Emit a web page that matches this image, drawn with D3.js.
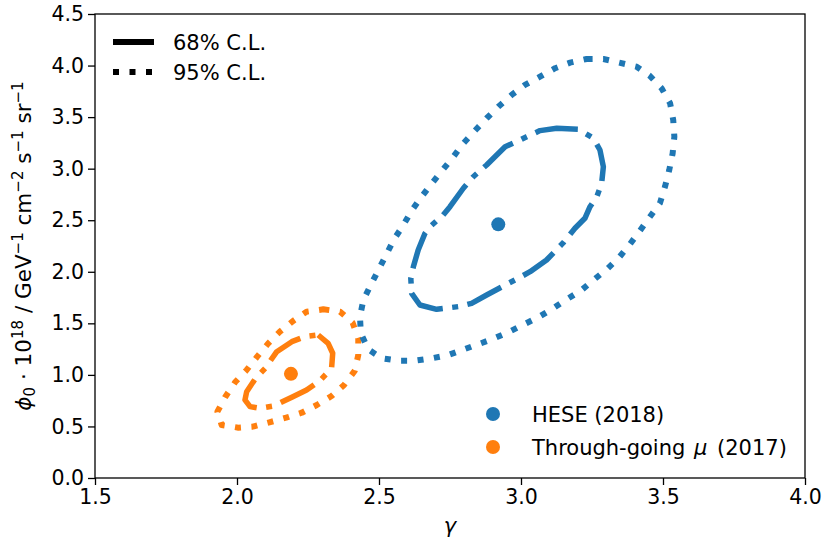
<!DOCTYPE html>
<html>
<head>
<meta charset="utf-8">
<script src="https://cdn.jsdelivr.net/npm/d3@7"></script>
<style>
  body { margin: 0; background: #fff; }
  svg text { font-family: "DejaVu Sans", sans-serif; fill: #000; }
</style>
</head>
<body>
<svg id="chart" width="827" height="546"></svg>
<script>
// contour points [gamma, phi0]
var heseBest = [2.92, 2.46];
var muBest = [2.19, 1.01];

var hese68 = [
  [3.067,3.369],[3.126,3.392],[3.202,3.382],[3.255,3.295],[3.278,3.181],[3.290,3.019],
  [3.284,2.858],[3.267,2.728],[3.243,2.631],[3.225,2.519],[3.190,2.422],[3.149,2.282],
  [3.090,2.114],[3.032,2.001],[2.990,1.937],[2.938,1.862],[2.879,1.775],[2.826,1.694],
  [2.779,1.662],[2.703,1.636],[2.644,1.678],[2.615,1.791],[2.612,1.937],[2.621,2.049],
  [2.638,2.211],[2.662,2.373],[2.680,2.437],[2.726,2.551],[2.750,2.631],[2.797,2.810],
  [2.832,2.922],[2.879,3.036],[2.944,3.213],[2.985,3.262],[3.020,3.310]
];
var hese95 = [
  [3.231,4.064],[3.290,4.064],[3.407,3.989],[3.454,3.899],[3.495,3.780],[3.525,3.634],
  [3.536,3.472],[3.540,3.310],[3.534,3.149],[3.522,2.987],[3.507,2.825],[3.489,2.664],
  [3.454,2.534],[3.419,2.399],[3.384,2.270],[3.346,2.141],[3.302,2.024],[3.255,1.920],
  [3.214,1.824],[3.161,1.733],[3.108,1.636],[3.061,1.559],[3.006,1.484],[2.952,1.409],
  [2.897,1.345],[2.842,1.290],[2.744,1.193],[2.686,1.161],[2.627,1.138],[2.568,1.138],
  [2.510,1.161],[2.462,1.248],[2.436,1.403],[2.433,1.565],[2.445,1.726],[2.471,1.872],
  [2.498,2.017],[2.525,2.163],[2.553,2.315],[2.586,2.454],[2.615,2.593],[2.650,2.728],
  [2.686,2.858],[2.724,2.987],[2.762,3.116],[2.797,3.246],[2.838,3.369],[2.879,3.489],
  [2.920,3.601],[2.967,3.715],[3.014,3.812],[3.067,3.892],[3.120,3.974],[3.173,4.028]
];
var mu68 = [
  [2.286,1.387],[2.321,1.306],[2.337,1.210],[2.333,1.064],[2.292,0.944],[2.245,0.854],
  [2.193,0.783],[2.128,0.698],[2.081,0.676],[2.046,0.692],[2.028,0.757],[2.034,0.837],
  [2.063,0.957],[2.099,1.064],[2.140,1.225],[2.193,1.322],[2.239,1.371]
];
var mu95 = [
  [2.304,1.636],[2.363,1.613],[2.407,1.506],[2.427,1.355],[2.427,1.193],[2.415,1.041],
  [2.377,0.902],[2.333,0.795],[2.281,0.708],[2.228,0.633],[2.173,0.585],[2.114,0.540],
  [2.055,0.498],[2.005,0.488],[1.946,0.514],[1.931,0.643],[1.958,0.783],[1.993,0.928],
  [2.034,1.048],[2.071,1.177],[2.110,1.306],[2.151,1.419],[2.199,1.526],[2.245,1.613]
];

var xTicks = [1.5, 2.0, 2.5, 3.0, 3.5, 4.0];
var yTicks = [0, 0.5, 1, 1.5, 2, 2.5, 3, 3.5, 4, 4.5];

var blue = "#1f77b4", orange = "#ff7f0e";
var dash68 = "38,9.5,6,9.5";
var dot95 = "6,10.5";

var $svg = d3.select("#chart");
// plot box (note: "top" is a reserved window global, so use m-prefixed names)
var mLeft = 95, mRight = 805, mTop = 14, mBottom = 478;

var x = d3.scaleLinear().domain([1.5, 4.0]).range([mLeft, mRight]);
var y = d3.scaleLinear().domain([0, 4.5]).range([mBottom, mTop]);

var line = d3.line().x(d => x(d[0])).y(d => y(d[1])).curve(d3.curveLinearClosed);

var $plot = $svg.append("g");

// contours
function contour(pts, color, dash, w) {
  $plot.append("path")
    .attr("d", line(pts))
    .attr("fill", "none")
    .attr("stroke", color)
    .attr("stroke-width", w)
    .attr("stroke-dasharray", dash)
    .attr("stroke-linejoin", "round");
}
contour(mu95, orange, dot95, 6);
contour(mu68, orange, dash68, 5.5);
contour(hese95, blue, dot95, 6);
contour(hese68, blue, dash68, 5.5);

// best fit points
$plot.append("circle").attr("cx", x(heseBest[0])).attr("cy", y(heseBest[1])).attr("r", 7).attr("fill", blue);
$plot.append("circle").attr("cx", x(muBest[0])).attr("cy", y(muBest[1])).attr("r", 7).attr("fill", orange);

// axes
var xAxis = d3.axisBottom(x).tickValues(xTicks).tickFormat(d3.format(".1f")).tickSize(7).tickPadding(4);
var yAxis = d3.axisLeft(y).tickValues(yTicks).tickFormat(d3.format(".1f")).tickSize(7).tickPadding(4);

var $gx = $svg.append("g").attr("transform", `translate(0 ${mBottom})`).call(xAxis);
var $gy = $svg.append("g").attr("transform", `translate(${mLeft} 0)`).call(yAxis);
[$gx, $gy].forEach(g => {
  g.select(".domain").remove();
  g.selectAll("line").attr("stroke", "#000").attr("stroke-width", 1.3);
  g.selectAll("text").attr("font-size", 20.5).attr("font-family", "DejaVu Sans").attr("fill", "#000");
});

// frame
$svg.append("rect")
  .attr("x", mLeft).attr("y", mTop)
  .attr("width", mRight - mLeft).attr("height", mBottom - mTop)
  .attr("fill", "none").attr("stroke", "#000").attr("stroke-width", 1.3);

// axis labels
$svg.append("text")
  .attr("x", (mLeft + mRight) / 2).attr("y", 533)
  .attr("text-anchor", "middle").attr("font-size", 21)
  .attr("font-style", "italic").text("γ");

var $yl = $svg.append("text")
  .attr("transform", `translate(31 ${(mTop + mBottom) / 2}) rotate(-90)`)
  .attr("text-anchor", "middle").attr("font-size", 21.5);
$yl.append("tspan").attr("font-style", "italic").text("ϕ");
$yl.append("tspan").attr("font-size", 15).attr("dy", 4).text("0");
$yl.append("tspan").attr("dy", -4).text(" · 10");
$yl.append("tspan").attr("font-size", 15).attr("dy", -8).text("18");
$yl.append("tspan").attr("dy", 8).text(" / GeV");
$yl.append("tspan").attr("font-size", 15).attr("dy", -8).text("−1");
$yl.append("tspan").attr("dy", 8).text(" cm");
$yl.append("tspan").attr("font-size", 15).attr("dy", -8).text("−2");
$yl.append("tspan").attr("dy", 8).text(" s");
$yl.append("tspan").attr("font-size", 15).attr("dy", -8).text("−1");
$yl.append("tspan").attr("dy", 8).text(" sr");
$yl.append("tspan").attr("font-size", 15).attr("dy", -8).text("−1");

// legend: confidence levels
var clLegend = [["68% C.L.", null], ["95% C.L.", dot95]];
clLegend.forEach((d, i) => {
  var yy = 42 + i * 30;
  $svg.append("line")
    .attr("x1", 113).attr("x2", 154).attr("y1", yy).attr("y2", yy)
    .attr("stroke", "#000").attr("stroke-width", 6)
    .attr("stroke-dasharray", d[1]);
  $svg.append("text").attr("x", 173).attr("y", yy + 8).attr("font-size", 21).text(d[0]);
});

// legend: data sets
var dsLegend = [[blue, "HESE (2018)"], [orange, "Through-going ", "μ", " (2017)"]];
dsLegend.forEach((d, i) => {
  var yy = 414 + i * 33;
  $svg.append("circle").attr("cx", 493).attr("cy", yy).attr("r", 7).attr("fill", d[0]);
  var t = $svg.append("text").attr("x", 532).attr("y", yy + 8).attr("font-size", 21);
  t.append("tspan").text(d[1]);
  if (d[2]) {
    t.append("tspan").attr("dx", 2).attr("font-style", "italic").text(d[2]);
    t.append("tspan").attr("dx", 3).text(d[3]);
  }
});
</script>
</body>
</html>
